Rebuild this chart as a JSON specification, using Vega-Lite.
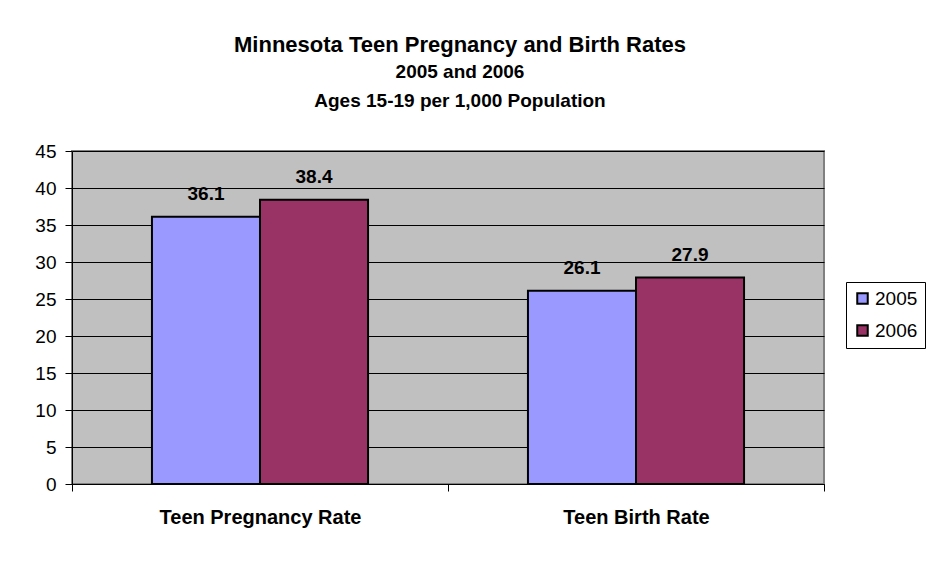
{
  "$schema": "https://vega.github.io/schema/vega-lite/v6.json",
  "autosize": {"type": "none"},
  "padding": {"left": 72, "top": 151, "right": 105, "bottom": 97},
  "width": 752,
  "height": 333,
  "background": "white",
  "title": {
    "text": "Minnesota Teen Pregnancy and Birth Rates",
    "subtitle": ["2005 and 2006", "Ages 15-19 per 1,000 Population"],
    "font": "Liberation Sans",
    "fontSize": 22,
    "fontWeight": "bold",
    "color": "black",
    "subtitleFont": "Liberation Sans",
    "subtitleFontSize": 19,
    "subtitleFontWeight": "bold",
    "subtitleColor": "black",
    "subtitleLineHeight": 29,
    "subtitlePadding": 6,
    "anchor": "middle",
    "dx": 12,
    "offset": 30
  },
  "data": {
    "values": [
      {"category": "Teen Pregnancy Rate", "year": "2005", "rate": 36.1},
      {"category": "Teen Pregnancy Rate", "year": "2006", "rate": 38.4},
      {"category": "Teen Birth Rate", "year": "2005", "rate": 26.1},
      {"category": "Teen Birth Rate", "year": "2006", "rate": 27.9}
    ]
  },
  "encoding": {
    "x": {
      "field": "category",
      "type": "nominal",
      "sort": ["Teen Pregnancy Rate", "Teen Birth Rate"],
      "scale": {"paddingInner": 0, "paddingOuter": 0},
      "axis": {
        "title": null,
        "labelAngle": 0,
        "labelLimit": 0,
        "labelFont": "Liberation Sans",
        "labelFontSize": 20,
        "labelFontWeight": "bold",
        "labelColor": "black",
        "labelPadding": 16,
        "tickBand": "extent",
        "tickColor": "black",
        "tickSize": 7,
        "domainColor": "black",
        "domainWidth": 1,
        "grid": false
      }
    },
    "xOffset": {
      "field": "year",
      "type": "nominal",
      "scale": {"paddingInner": 0, "paddingOuter": 0.74}
    },
    "y": {
      "field": "rate",
      "type": "quantitative",
      "scale": {"domain": [0, 45]},
      "axis": {
        "title": null,
        "values": [0, 5, 10, 15, 20, 25, 30, 35, 40, 45],
        "labelOverlap": false,
        "labelFont": "Liberation Sans",
        "labelFontSize": 19,
        "labelColor": "black",
        "labelPadding": 9,
        "tickColor": "black",
        "tickSize": 7,
        "domainColor": "black",
        "grid": true,
        "gridColor": "black",
        "gridWidth": 1,
        "gridOpacity": 1
      }
    }
  },
  "layer": [
    {
      "mark": {"type": "bar", "stroke": "black", "strokeWidth": 2},
      "encoding": {
        "color": {
          "field": "year",
          "type": "nominal",
          "scale": {"domain": ["2005", "2006"], "range": ["#9999FF", "#993366"]},
          "legend": {
            "title": null,
            "orient": "none",
            "legendX": 774,
            "legendY": 131,
            "symbolType": "square",
            "symbolSize": 110,
            "symbolStrokeColor": "black",
            "symbolStrokeWidth": 2,
            "symbolOpacity": 1,
            "labelFont": "Liberation Sans",
            "labelFontSize": 19,
            "labelColor": "black",
            "labelOffset": 3,
            "rowPadding": 12,
            "padding": 7,
            "strokeColor": "black",
            "fillColor": "white"
          }
        }
      }
    },
    {
      "mark": {
        "type": "text",
        "font": "Liberation Sans",
        "fontSize": 19,
        "fontWeight": "bold",
        "baseline": "alphabetic",
        "dy": -17,
        "color": "black"
      },
      "encoding": {
        "text": {"field": "rate", "type": "quantitative", "format": ".1f"}
      }
    }
  ],
  "config": {
    "view": {"fill": "#C0C0C0", "stroke": "#808080", "strokeWidth": 2}
  }
}
